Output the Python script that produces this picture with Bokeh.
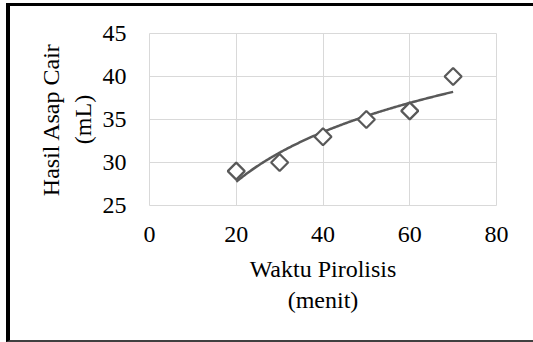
import numpy as np
from bokeh.plotting import figure
from bokeh.embed import file_html
from bokeh.resources import INLINE
from bokeh.models import FixedTicker, Range1d

# Data
waktu = [20, 30, 40, 50, 60, 70]          # Waktu Pirolisis (menit)
hasil = [29, 30, 33, 35, 36, 40]          # Hasil Asap Cair (mL)
x_ticks = [0, 20, 40, 60, 80]
y_ticks = [25, 30, 35, 40, 45]

# Logarithmic trendline fitted to the data
coef = np.polyfit(np.log(waktu), hasil, 1)
tx = np.linspace(min(waktu), max(waktu), 200)
ty = coef[0] * np.log(tx) + coef[1]

FONT = "Liberation Serif"
GRID = "#d9d9d9"
INK = "#595959"

p = figure(width=527, height=339, output_backend="svg", toolbar_location=None,
           x_range=Range1d(0, 80), y_range=Range1d(25, 45),
           min_border_left=139, min_border_right=41, min_border_top=27, min_border_bottom=140)

p.styles = {"margin-left": "6px", "margin-top": "3px", "overflow": "hidden",
            "border-left": "4px solid black", "border-top": "3px solid black",
            "border-bottom": "2px solid #404040"}

p.outline_line_color = GRID
p.background_fill_color = "white"
p.border_fill_color = "white"

p.xaxis.ticker = FixedTicker(ticks=x_ticks)
p.yaxis.ticker = FixedTicker(ticks=y_ticks)
p.xgrid.ticker = FixedTicker(ticks=x_ticks)
p.ygrid.ticker = FixedTicker(ticks=y_ticks)
p.grid.grid_line_color = GRID
p.grid.grid_line_width = 1

for ax in (p.xaxis, p.yaxis):
    ax.axis_line_color = None
    ax.major_tick_line_color = None
    ax.minor_tick_line_color = None
    ax.major_label_text_font = FONT
    ax.major_label_text_font_size = "24px"
    ax.major_label_text_color = "black"
    ax.axis_label_text_font = FONT
    ax.axis_label_text_font_size = "24px"
    ax.axis_label_text_font_style = "normal"
    ax.axis_label_text_color = "black"

p.xaxis.axis_label = "Waktu Pirolisis\n(menit)"
p.yaxis.axis_label = "Hasil Asap Cair\n(mL)"
p.xaxis.major_label_standoff = 15
p.yaxis.major_label_standoff = 17
p.xaxis.axis_label_standoff = 11
p.yaxis.axis_label_standoff = 4

p.line(tx, ty, line_color=INK, line_width=2.5)
p.scatter(waktu, hasil, marker="square", angle=np.pi / 4, size=12,
          fill_color="white", line_color=INK, line_width=2.25)

open("out.html", "w").write(file_html(p, INLINE))
